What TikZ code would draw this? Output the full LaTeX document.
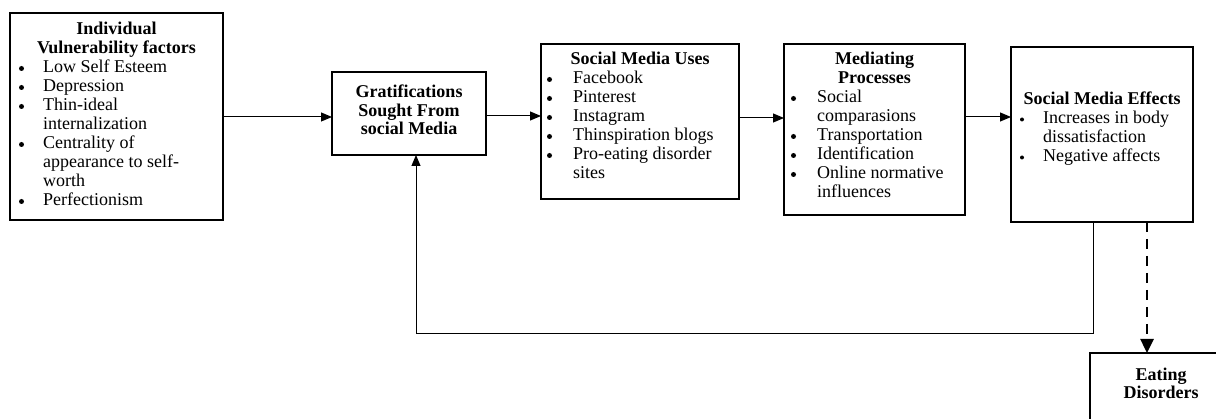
\documentclass[tikz,border=0pt]{standalone}
\usepackage{fontspec}
\setmainfont{Liberation Serif}
\usetikzlibrary{arrows.meta}
\tikzset{
 box/.style={draw, line width=1.1pt, inner sep=0pt, outer sep=0pt, anchor=north west},
 txt/.style={anchor=base west, inner sep=0pt, font=\fontsize{18pt}{19pt}\selectfont},
 ttl/.style={anchor=base, inner sep=0pt, font=\fontsize{18pt}{19pt}\selectfont\bfseries},
 bul/.style={circle, fill, draw=none, inner sep=0pt, minimum size=5pt},
 arr/.style={line width=1pt, -{Triangle[length=11pt,width=9pt]}},
 darr/.style={line width=2.5pt, dash pattern=on 10pt off 7pt, -{Triangle[length=14pt,width=13pt]}},
}
\begin{document}
\begin{tikzpicture}[x=1pt,y=-1pt]
\useasboundingbox (0,0) rectangle (1216,419);
\clip (0,0) rectangle (1216,419);
% boxes
\node[box, minimum width=213pt, minimum height=207pt] (b1) at (10,13) {};
\node[box, minimum width=154pt, minimum height=83pt] (b2) at (332,72) {};
\node[box, minimum width=198pt, minimum height=155pt] (b3) at (541,44) {};
\node[box, minimum width=181pt, minimum height=171pt] (b4) at (784,44) {};
\node[box, minimum width=182pt, minimum height=175pt] (b5) at (1011,47) {};
\node[box, minimum width=142pt, minimum height=80pt] (ed) at (1090,353) {};
% box 1 text
\node[ttl] (b1t1) at (116.5,35) {Individual};
\node[ttl] (b1t2) at (116.5,54) {Vulnerability factors};
\foreach \y/\t/\b [count=\i] in {73/Low Self Esteem/1, 92/Depression/1, 111/Thin-ideal/1, 130/internalization/0, 149/Centrality of/1, 168/appearance to self-/0, 187/worth/0, 206/Perfectionism/1}{
  \node[txt] (b1l\i) at (43,\y) {\t};
  \ifnum\b=1 \node[bul] (b1b\i) at (21.5,\y-4.5) {};\fi
}
% box 2 text
\node[ttl] (b2t1) at (409,98) {Gratifications};
\node[ttl] (b2t2) at (409,116.5) {Sought From};
\node[ttl] (b2t3) at (409,135) {social Media};
% box 3 text
\node[ttl] (b3t1) at (640,65) {Social Media Uses};
\foreach \y/\t/\b [count=\i] in {84/Facebook/1, 103/Pinterest/1, 122/Instagram/1, 141/Thinspiration blogs/1, 160/Pro-eating disorder/1, 179/sites/0}{
  \node[txt] (b3l\i) at (573,\y) {\t};
  \ifnum\b=1 \node[bul] (b3b\i) at (549.5,\y-4.5) {};\fi
}
% box 4 text
\node[ttl] (b4t1) at (874.5,65) {Mediating};
\node[ttl] (b4t2) at (874.5,84) {Processes};
\foreach \y/\t/\b [count=\i] in {103/Social/1, 122/comparasions/0, 141/Transportation/1, 160/Identification/1, 179/Online normative/1, 198/influences/0}{
  \node[txt] (b4l\i) at (817,\y) {\t};
  \ifnum\b=1 \node[bul] (b4b\i) at (793.5,\y-4.5) {};\fi
}
% box 5 text
\node[ttl] (b5t1) at (1102,105) {Social Media Effects};
\foreach \y/\t/\b [count=\i] in {124/Increases in body/1, 143/dissatisfaction/0, 162/Negative affects/1}{
  \node[txt] (b5l\i) at (1043,\y) {\t};
  \ifnum\b=1 \node[bul, minimum size=4pt] (b5b\i) at (1022,\y-4.5) {};\fi
}
% eating disorders text
\node[ttl] (edt1) at (1161,381) {Eating};
\node[ttl] (edt2) at (1161,399) {Disorders};
% connectors
\coordinate (ya) at (0,117);
\draw[arr] (b1.east |- ya) -- (b2.west |- ya);
\coordinate (yb) at (0,116);
\draw[arr] (b2.east |- yb) -- (b3.west |- yb);
\coordinate (yc) at (0,118);
\draw[arr] (b3.east |- yc) -- (b4.west |- yc);
\draw[arr] (b4.east |- ya) -- (b5.west |- ya);
\coordinate (fa) at (1093,334);
\coordinate (fb) at (416,334);
\draw[arr] (b5.south -| fa) -- (fa) -- (fb) -- (b2.south -| fb);
\coordinate (dx) at (1147,0);
\draw[darr] (b5.south -| dx) -- (ed.north -| dx);
\end{tikzpicture}
\end{document}
